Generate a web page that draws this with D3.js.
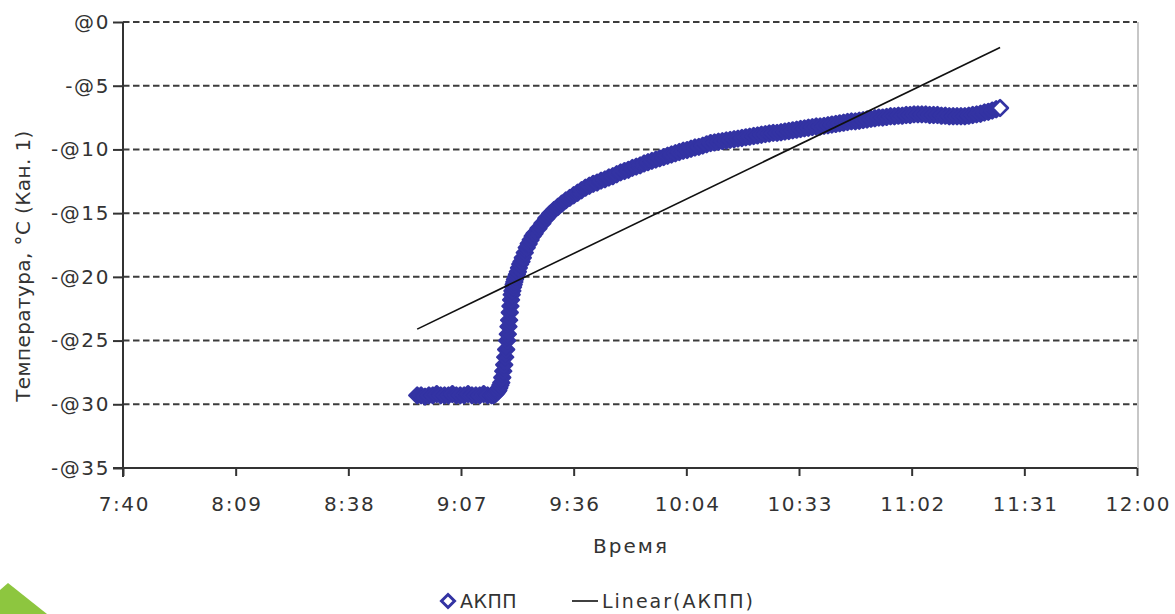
<!DOCTYPE html>
<html>
<head>
<meta charset="utf-8">
<script src="https://cdn.jsdelivr.net/npm/d3@7"></script>
<style>
  body { margin: 0; background: #fff; }
  svg { display: block; }
  text { font-family: "DejaVu Sans", sans-serif; fill: #333; }
</style>
</head>
<body>
<svg id="chart" width="1175" height="614"></svg>
<script>
// Temperature log, channel 1 (АКПП): time of reading and °C
const readingTimes = [
  "8:56","8:57","8:58","8:59","9:00","9:01","9:02","9:03","9:04","9:05",
  "9:06","9:07","9:08","9:09","9:10","9:11","9:12","9:13","9:14","9:15","9:15:30",
  "9:16:00","9:16:15","9:16:30","9:16:45","9:17:00","9:17:15","9:17:30","9:17:45",
  "9:18:00","9:18:15","9:18:30","9:18:45","9:19:00","9:19:10","9:19:20","9:19:30",
  "9:19:40","9:19:50","9:20:00","9:20:10","9:20:20","9:20:30","9:20:40","9:20:50",
  "9:21:00","9:21:15","9:21:30","9:21:45","9:22:00","9:22:20","9:22:40","9:23:00",
  "9:23:30","9:24:00","9:24:30","9:25:00","9:25:30",
  "9:26","9:27","9:28","9:29","9:30","9:31","9:32","9:33","9:34","9:35",
  "9:36","9:37","9:38","9:39","9:40","9:41","9:42","9:43","9:44","9:45",
  "9:46","9:47","9:48","9:49","9:50","9:51","9:52","9:53","9:54","9:55",
  "9:56","9:57","9:58","9:59","10:00","10:01","10:02","10:03","10:04","10:05",
  "10:06","10:07","10:08","10:09","10:10","10:11","10:12","10:13","10:14","10:15",
  "10:16","10:17","10:18","10:19","10:20","10:21","10:22","10:23","10:24","10:25",
  "10:26","10:27","10:28","10:29","10:30","10:31","10:32","10:33","10:34","10:35",
  "10:36","10:37","10:38","10:39","10:40","10:41","10:42","10:43","10:44","10:45",
  "10:46","10:47","10:48","10:49","10:50","10:51","10:52","10:53","10:54","10:55",
  "10:56","10:57","10:58","10:59","11:00","11:01","11:02","11:03","11:04","11:05",
  "11:06","11:07","11:08","11:09","11:10","11:11","11:12","11:13","11:14","11:15",
  "11:16","11:17","11:18","11:19","11:20","11:21","11:22","11:23","11:24","11:25"
];
const readingTemps = [
  -29.3,-29.3,-29.4,-29.3,-29.3,-29.2,-29.3,-29.3,-29.3,-29.2,
  -29.3,-29.3,-29.3,-29.2,-29.3,-29.3,-29.3,-29.2,-29.3,-29.3,-29.3,
  -29.2,-29.1,-29.0,-28.9,-28.7,-28.5,-28.3,-27.9,
  -27.4,-26.9,-26.3,-25.7,-25.0,-24.5,-23.9,-23.4,
  -22.8,-22.3,-21.8,-21.4,-21.1,-20.8,-20.6,-20.4,
  -20.2,-20.0,-19.8,-19.6,-19.3,-19.0,-18.8,-18.5,
  -18.1,-17.7,-17.4,-17.1,-16.8,
  -16.6,-16.2,-15.8,-15.4,-15.05,-14.75,-14.5,-14.25,-14.0,-13.8,
  -13.6,-13.4,-13.2,-13.0,-12.85,-12.7,-12.6,-12.45,-12.35,-12.2,
  -12.1,-11.95,-11.8,-11.7,-11.6,-11.45,-11.35,-11.25,-11.1,-11.0,
  -10.9,-10.8,-10.7,-10.6,-10.5,-10.4,-10.3,-10.2,-10.1,-10.05,
  -9.95,-9.85,-9.8,-9.7,-9.6,-9.5,-9.45,-9.4,-9.35,-9.3,
  -9.25,-9.2,-9.15,-9.1,-9.05,-9.0,-8.95,-8.9,-8.85,-8.8,
  -8.75,-8.7,-8.7,-8.65,-8.6,-8.55,-8.5,-8.45,-8.4,-8.35,
  -8.3,-8.25,-8.2,-8.2,-8.15,-8.1,-8.05,-8.0,-7.95,-7.9,
  -7.85,-7.8,-7.8,-7.75,-7.7,-7.65,-7.6,-7.55,-7.5,-7.5,
  -7.45,-7.4,-7.4,-7.35,-7.35,-7.3,-7.3,-7.25,-7.25,-7.25,
  -7.25,-7.3,-7.3,-7.3,-7.35,-7.35,-7.4,-7.4,-7.4,-7.4,
  -7.4,-7.35,-7.3,-7.25,-7.2,-7.1,-7.05,-6.95,-6.85,-6.75
];

// Linear trend (АКПП) at the first and last reading
const trendTemps = [-24.1, -2.0];

// Axes: time as fraction of a day, temperature in °C
const xTickValues = [0.32, 0.34, 0.36, 0.38, 0.40, 0.42, 0.44, 0.46, 0.48, 0.50];
const xTickLabels = ["7:40","8:09","8:38","9:07","9:36","10:04","10:33","11:02","11:31","12:00"];
const yTickValues = [0, -5, -10, -15, -20, -25, -30, -35];
const yTickLabels = ["@0","-@5","-@10","-@15","-@20","-@25","-@30","-@35"];

const seriesName = "АКПП";
const trendName = "Linear(АКПП)";
const xTitle = "Время";
const yTitle = "Температура, °C (Кан. 1)";

const toDay = s => {
  const [h, m, sec = 0] = s.split(":").map(Number);
  return (h * 3600 + m * 60 + sec) / 86400;
};
const readings = readingTimes.map((t, i) => ({ t: toDay(t), v: readingTemps[i] }));

const svg = d3.select("#chart");
const plotLeft = 123, plotRight = 1137, plotTop = 22, plotBottom = 468;

const x = d3.scaleLinear().domain([0.32, 0.50]).range([plotLeft, plotRight]);
const y = d3.scaleLinear().domain([-35, 0]).range([plotBottom, plotTop]);

const navy = "#3333a3";
const diamondPath = r => `M0,${-r}L${r},0L0,${r}L${-r},0Z`;

// horizontal dashed gridlines
svg.append("g")
  .selectAll("line")
  .data(yTickValues.filter(v => v !== -35))
  .join("line")
  .attr("x1", plotLeft).attr("x2", plotRight)
  .attr("y1", d => y(d)).attr("y2", d => y(d))
  .attr("stroke", "#3c3c3c")
  .attr("stroke-width", 2)
  .attr("stroke-dasharray", "6.5,3.5");

// right frame edge
svg.append("line")
  .attr("x1", plotRight + 1).attr("x2", plotRight + 1)
  .attr("y1", plotTop).attr("y2", plotBottom)
  .attr("stroke", "#b4b4b4").attr("stroke-width", 1.5);

const tickFont = sel => sel.attr("font-size", 20).attr("fill", "#444")
  .style("font-family", '"DejaVu Sans", sans-serif')
  .style("letter-spacing", "1.6px");

// y axis
const yAxis = svg.append("g")
  .attr("transform", `translate(${plotLeft},0)`)
  .call(d3.axisLeft(y).tickValues(yTickValues)
    .tickFormat((d, i) => yTickLabels[i]).tickSizeInner(10).tickSizeOuter(0).tickPadding(3));
yAxis.select(".domain").attr("stroke", "#333").attr("stroke-width", 2)
  .attr("d", `M0,${plotTop}V${plotBottom + 9}`);
yAxis.selectAll(".tick line").attr("stroke", "#333").attr("stroke-width", 2);
yAxis.selectAll(".tick text").call(tickFont);

// x axis
const xAxis = svg.append("g")
  .attr("transform", `translate(0,${plotBottom})`)
  .call(d3.axisBottom(x).tickValues(xTickValues)
    .tickFormat((d, i) => xTickLabels[i]).tickSizeInner(8).tickSizeOuter(0).tickPadding(21));
xAxis.select(".domain").attr("stroke", "#333").attr("stroke-width", 2)
  .attr("d", `M${plotLeft - 10},0H${plotRight}`);
xAxis.selectAll(".tick line").attr("stroke", "#333").attr("stroke-width", 2);
xAxis.selectAll(".tick text").call(tickFont).attr("dx", "0.8px");

// axis titles
svg.append("text")
  .attr("transform", `translate(23,${(plotTop + plotBottom) / 2 + 21}) rotate(-90)`)
  .attr("text-anchor", "middle").attr("dy", "0.35em")
  .attr("font-size", 20).attr("fill", "#333")
  .style("letter-spacing", "0.4px")
  .text(yTitle);
svg.append("text")
  .attr("x", 631).attr("y", 553)
  .attr("text-anchor", "middle")
  .attr("font-size", 20).attr("fill", "#333")
  .style("letter-spacing", "2px")
  .text(xTitle);

// readings as diamond markers; the final reading stays open
svg.append("g")
  .selectAll("path")
  .data(readings)
  .join("path")
  .attr("d", diamondPath(7.8))
  .attr("transform", d => `translate(${x(d.t)},${y(d.v)})`)
  .attr("fill", (d, i) => i === readings.length - 1 ? "#fff" : navy)
  .attr("stroke", navy)
  .attr("stroke-width", 2.6)
  .attr("stroke-linejoin", "round");

// linear trend
const first = readings[0].t, last = readings[readings.length - 1].t;
svg.append("path")
  .datum([{ t: first, v: trendTemps[0] }, { t: last, v: trendTemps[1] }])
  .attr("d", d3.line().x(d => x(d.t)).y(d => y(d.v)))
  .attr("fill", "none").attr("stroke", "#111").attr("stroke-width", 1.6);

// legend
const legend = svg.append("g").attr("transform", "translate(0,601)");
legend.append("path").attr("d", diamondPath(6.5))
  .attr("transform", "translate(448,0)")
  .attr("fill", "#fff").attr("stroke", navy).attr("stroke-width", 3);
legend.append("text").attr("x", 460).attr("y", 0).attr("dy", "0.35em")
  .attr("font-size", 19).attr("fill", "#333")
  .style("letter-spacing", "0.5px").text(seriesName);
legend.append("line").attr("x1", 572).attr("x2", 598).attr("y1", 0).attr("y2", 0)
  .attr("stroke", "#111").attr("stroke-width", 1.6);
legend.append("text").attr("x", 602).attr("y", 0).attr("dy", "0.35em")
  .attr("font-size", 19).attr("fill", "#333")
  .style("letter-spacing", "2px").text(trendName);

// slide accent in the lower-left corner
svg.append("path")
  .attr("d", "M0,590L8,583L47,614L0,614Z")
  .attr("fill", "#8dc63f");
</script>
</body>
</html>
